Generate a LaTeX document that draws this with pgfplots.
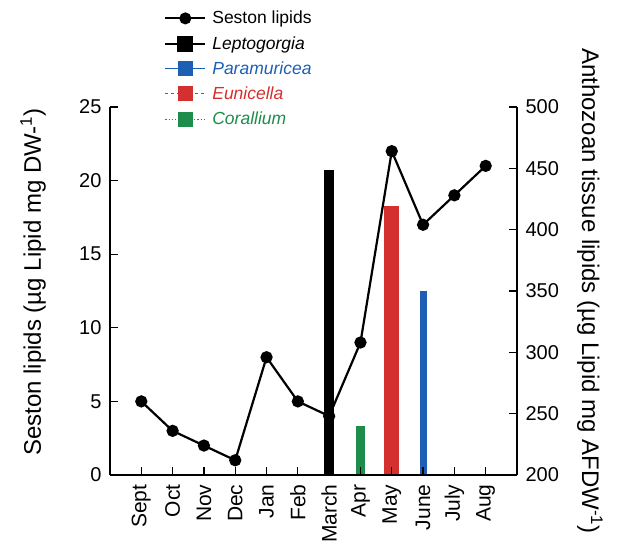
\documentclass[border=0pt]{standalone}
\usepackage{pgfplots}
\pgfplotsset{compat=1.18}
\usepackage{fontspec}
\setmainfont{Liberation Sans}
\definecolor{cblue}{HTML}{1D5FB5}
\definecolor{cred}{HTML}{D3302F}
\definecolor{cgreen}{HTML}{1E8C4B}
\pgfplotsset{
  longleg/.style={legend image code/.code={%
    \draw[mark repeat=2,mark phase=2,##1] plot coordinates {(0pt,0pt) (20pt,0pt) (40pt,0pt)};}},
  common/.style={scale only axis, width=407pt, height=368pt, xmin=-1, xmax=12,
    tick align=inside, major tick length=8pt,
    tick style={black, line width=1.2pt},
    axis line style={line width=1.3pt},
    /pgf/number format/assume math mode=true,
    tick label style={font=\fontsize{20}{24}\selectfont},
    yticklabel shift=5pt,
  },
}
\begin{document}
\begin{tikzpicture}
\begin{axis}[common, name=ax1,
  ymin=0, ymax=25,
  axis x line=none, axis y line*=left,
  ytick={0,5,...,25},
  every axis y label/.style={at={(axis description cs:-0.189,0.524)}, rotate=90, anchor=center,
    font=\fontsize{24}{28}\selectfont},
  ylabel={Seston lipids (µg Lipid mg DW-\textsuperscript{1})},
]
\addplot[black, line width=2.2pt, mark=*, mark size=5pt] coordinates {
(0,5) (1,3) (2,2) (3,1) (4,8) (5,5) (6,4) (7,9) (8,22) (9,17) (10,19) (11,21)};
\end{axis}
\begin{axis}[common,
  ymin=200, ymax=500,
  axis x line*=bottom, axis y line*=right, axis on top,
  xtick={0,...,11},
  xticklabels={Sept,Oct,Nov,Dec,Jan,Feb,March,Apr,May,June,July,Aug},
  xticklabel style={rotate=90, anchor=east, font=\fontsize{21}{24}\selectfont},
  xticklabel shift=6pt,
  ytick={200,250,...,500},
  every axis y label/.style={at={(axis description cs:1.179,0.5)}, rotate=-90, anchor=center,
    font=\fontsize{24}{28}\selectfont},
  ylabel={Anthozoan tissue lipids (µg Lipid mg AFDW\textsuperscript{-1})},
  legend style={draw=none, fill=none, at={(axis description cs:0.133,1.266)}, anchor=north west,
    font=\fontsize{17.5}{20}\selectfont, row sep=7pt, column sep=4pt, inner sep=0pt},
  legend cell align=left,
]
\addlegendimage{black, line width=2pt, mark=*, mark size=5pt, longleg}
\addlegendentry{Seston lipids}
\addlegendimage{black, line width=2pt, mark=square*, mark size=7pt, longleg}
\addlegendentry{\textit{Leptogorgia}}
\addlegendimage{cblue, line width=1pt, mark=square*, mark size=7pt, longleg}
\addlegendentry{\textcolor{cblue}{\textit{Paramuricea}}}
\addlegendimage{cred, line width=1pt, dashed, mark=square*, mark size=7pt, mark options={solid}, longleg}
\addlegendentry{\textcolor{cred}{\textit{Eunicella}}}
\addlegendimage{cgreen, line width=1.2pt, dotted, mark=square*, mark size=7pt, mark options={solid}, longleg}
\addlegendentry{\textcolor{cgreen}{\textit{Corallium}}}
\addplot[ybar, bar width=10pt, bar shift=0pt, fill=black, draw=none, forget plot] coordinates {(6,449)};
\addplot[ybar, bar width=9pt, bar shift=0pt, fill=cgreen, draw=none, forget plot] coordinates {(7,240)};
\addplot[ybar, bar width=15pt, bar shift=0pt, fill=cred, draw=none, forget plot] coordinates {(8,419)};
\addplot[ybar, bar width=7pt, bar shift=0pt, fill=cblue, draw=none, forget plot] coordinates {(9,350)};
\end{axis}
\path ([xshift=-110pt,yshift=-67pt]ax1.south west) rectangle ([xshift=100pt,yshift=107pt]ax1.north east);
\end{tikzpicture}
\end{document}
